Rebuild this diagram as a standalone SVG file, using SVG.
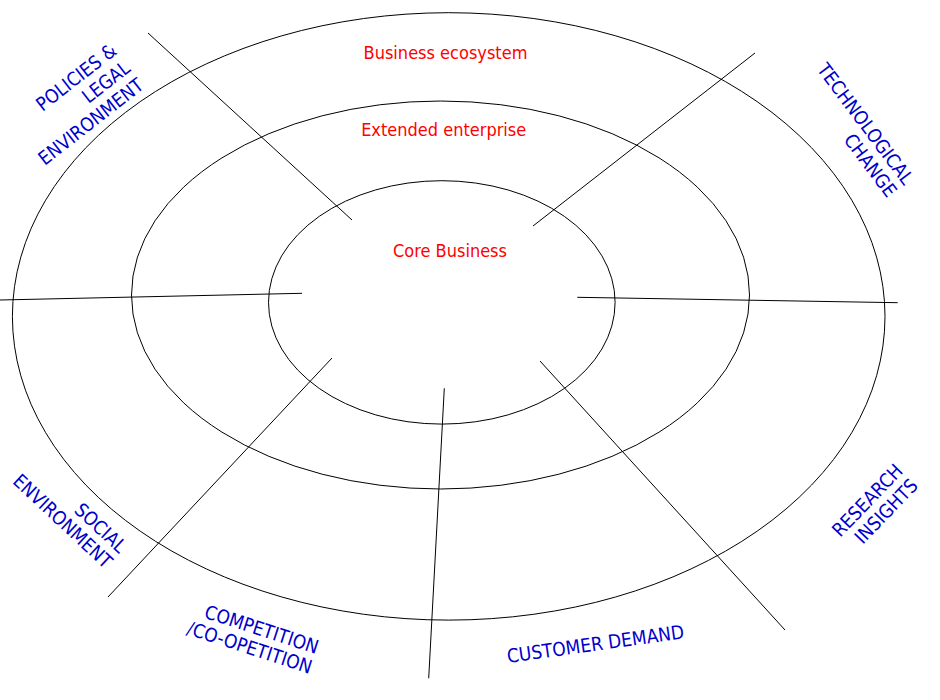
<svg xmlns="http://www.w3.org/2000/svg" width="940" height="700" viewBox="0 0 940 700">
<style>
.ring{fill:none;stroke:#000;stroke-width:1}
.spoke{stroke:#000;stroke-width:1}
text{font-family:'DejaVu Sans Condensed','DejaVu Sans',sans-serif;font-stretch:condensed;font-size:18px}
.red{fill:#ff0000;text-anchor:middle}
.blue{fill:#0000cc;text-anchor:end;font-size:19px}
</style>
<rect width="940" height="700" fill="#fff"/>
<g id="rings">
<ellipse id="outer" class="ring" cx="448.7" cy="316.4" rx="436.3" ry="303.7"/>
<ellipse id="middle" class="ring" cx="440.5" cy="295" rx="309" ry="194"/>
<ellipse id="inner" class="ring" cx="441.8" cy="302.4" rx="173.3" ry="121.7"/>
</g>
<g id="connectors">
<line class="spoke" x1="148" y1="33" x2="352" y2="220"/>
<line class="spoke" x1="533" y1="226" x2="755" y2="53"/>
<line class="spoke" x1="0" y1="300" x2="302" y2="293.3"/>
<line class="spoke" x1="577.3" y1="297.3" x2="897.7" y2="302.7"/>
<line class="spoke" x1="332" y1="358" x2="108" y2="597"/>
<line class="spoke" x1="444.3" y1="388.3" x2="428.7" y2="678.3"/>
<line class="spoke" x1="540" y1="361" x2="785" y2="630"/>
</g>
<g id="ring-labels">
<text class="red" x="445.5" y="59">Business ecosystem</text>
<text class="red" x="443.7" y="136">Extended enterprise</text>
<text class="red" x="450" y="257">Core Business</text>
</g>
<g id="policies" transform="translate(118,53) rotate(-38)">
<text class="blue" x="0" y="0">POLICIES &amp;</text>
<text class="blue" x="0" y="22">LEGAL</text>
<text class="blue" x="0" y="44">ENVIRONMENT</text>
</g>
<g id="technological" transform="translate(904,186) rotate(53)">
<text class="blue" x="0" y="0">TECHNOLOGICAL</text>
<text class="blue" x="0" y="21">CHANGE</text>
</g>
<g id="social" transform="translate(119,554) rotate(43)">
<text class="blue" x="0" y="0">SOCIAL</text>
<text class="blue" x="0" y="21">ENVIRONMENT</text>
</g>
<g id="competition" transform="translate(316,654) rotate(18)">
<text class="blue" x="0" y="0">COMPETITION</text>
<text class="blue" x="0" y="21">/CO-OPETITION</text>
</g>
<g id="customer" transform="translate(508,663) rotate(-8)">
<text class="blue" x="0" y="0" style="text-anchor:start">CUSTOMER DEMAND</text>
</g>
<g id="research" transform="translate(904,472) rotate(-46)">
<text class="blue" x="0" y="0">RESEARCH</text>
<text class="blue" x="0" y="21">INSIGHTS</text>
</g>
</svg>
